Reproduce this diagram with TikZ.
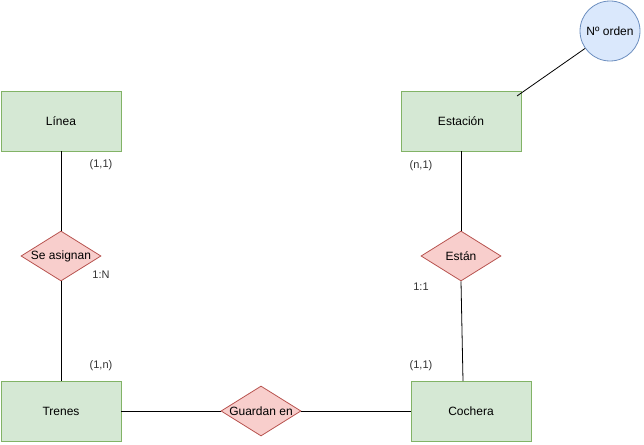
\documentclass[tikz,border=0pt]{standalone}
\usepackage{fontspec}
\setmainfont{Liberation Sans}
\usetikzlibrary{shapes.geometric}
\definecolor{entfill}{HTML}{D5E8D4}
\definecolor{entline}{HTML}{82B366}
\definecolor{relfill}{HTML}{F8CECC}
\definecolor{relline}{HTML}{B85450}
\definecolor{atrfill}{HTML}{DAE8FC}
\definecolor{atrline}{HTML}{6C8EBF}
\definecolor{cardtext}{HTML}{333333}

\begin{document}
\begin{tikzpicture}[x=1pt,y=-1pt,line width=0.8pt,font=\fontsize{12}{14}\selectfont,
   entidad/.style={draw=entline,fill=entfill,minimum width=120pt,minimum height=60pt,inner sep=0pt},
   relacion/.style={draw=relline,fill=relfill,diamond,aspect=1.6,minimum width=80pt,minimum height=50pt,inner sep=0pt},
   atributo/.style={draw=atrline,fill=atrfill,circle,minimum size=60pt,inner sep=0pt},
   card/.style={text=cardtext,font=\fontsize{11}{13}\selectfont}]
\useasboundingbox (0,0) rectangle (644,444);

% entidades
\node[entidad] (linea) at (61,121) {Línea};
\node[entidad] (estacion) at (461,121) {Estación};
\node[entidad] (trenes) at (61,411) {Trenes};
\node[entidad] (cochera) at (471,411) {Cochera};

% relaciones
\node[relacion] (asignan) at (61,256) {\makebox[0pt]{Se asignan}};
\node[relacion] (estan) at (461,256) {\makebox[0pt]{Están}};
\node[relacion] (guardan) at (261,411) {\makebox[0pt]{Guardan en}};

% atributo
\node[atributo] (orden) at (610,31) {\makebox[0pt]{Nº orden}};

\coordinate (estc) at (517,96);
\coordinate (cocht) at (463,381);

\draw (linea) -- (asignan);
\draw (asignan) -- (trenes);
\draw (trenes) -- (guardan);
\draw (guardan) -- (cochera);
\draw (estacion) -- (estan);
\draw (estan.south) -- (cocht);
\draw (estc) -- (orden);

% cardinalidades
\node[card] (c1) at (101,165) {(1,1)};
\node[card] (c2) at (101,275) {1:N};
\node[card] (c3) at (101,366) {(1,n)};
\node[card] (c4) at (421,166) {(n,1)};
\node[card] (c5) at (421,287) {1:1};
\node[card] (c6) at (421,366) {(1,1)};
\end{tikzpicture}
\end{document}
